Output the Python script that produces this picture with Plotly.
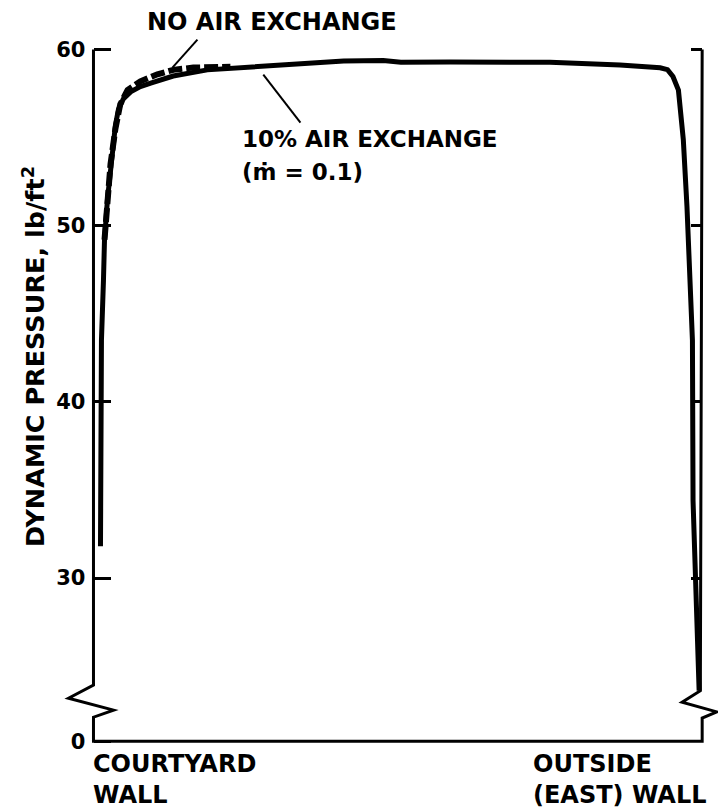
import plotly.graph_objects as go

# ---------------- data (axis units: x = 0 courtyard wall .. 100 east wall,
# y = dynamic pressure on the broken axis; the "0" sits at the break base) ----
x_10pct = [1.15, 1.31, 1.64, 1.81, 2.3, 2.8, 3.3, 3.6, 4.1, 4.9, 6.1, 7.7, 9.4,
           13.1, 18.7, 28.6, 41.1, 47.6, 50.5, 58.6, 75.0, 86.5, 91.5, 93.1,
           94.3, 95.2, 96.1, 96.9, 97.5, 98.4, 98.5, 99.3, 99.5]
p_10pct = [31.8, 43.5, 46.9, 49.2, 51.5, 53.0, 54.9, 55.7, 56.6, 57.2, 57.6,
           57.9, 58.1, 58.5, 58.85, 59.05, 59.35, 59.38, 59.28, 59.3, 59.28,
           59.12, 59.0, 58.97, 58.86, 58.47, 57.7, 54.9, 51.1, 43.5, 34.4,
           24.9, 23.6]

x_noair = [1.81, 2.3, 2.8, 3.6, 4.4, 5.6, 7.7, 10.5, 13.1, 16.4, 20.4, 22.5]
p_noair = [49.2, 51.8, 53.5, 55.5, 56.9, 57.7, 58.2, 58.6, 58.85, 58.98,
           59.03, 59.03]

tick_vals = [20.74, 30, 40, 50, 60]
tick_text = ["0", "30", "40", "50", "60"]
right_tick_vals = [30, 40, 50, 60]

# axis frame with break symbols
y_zero = 20.74
left_break_x = [0, -4.1, 3.3, 0]
left_break_y = [23.92, 23.18, 22.5, 22.1]
right_break_x = [100, 102.4, 96.7, 99.7]
right_break_y = [22.05, 22.4, 22.95, 23.6]

X_MIN, X_MAX = -5.5, 102.6
Y_MIN, Y_MAX = 19.5, 61.0

FONT = "DejaVu Sans"

fig = go.Figure()
fig.add_trace(go.Scatter(x=x_10pct, y=p_10pct, mode="lines",
                         line=dict(color="black", width=5),
                         showlegend=False, hoverinfo="skip"))
fig.add_trace(go.Scatter(x=x_noair, y=p_noair, mode="lines",
                         line=dict(color="black", width=6, dash="14px,4px"),
                         showlegend=False, hoverinfo="skip"))

# axis frame path
pts = [(0, 60)] + list(zip(left_break_x, left_break_y)) + [(0, y_zero), (100, y_zero)]
pts += [(100, right_break_y[0])] + list(zip(right_break_x, right_break_y)) + [(100, 60)]
path = "M " + " L ".join(f"{px},{py}" for px, py in pts)
fig.add_shape(type="path", path=path, xref="x", yref="y",
              line=dict(color="black", width=3))

# leader lines
fig.add_shape(type="line", x0=12.97, y0=58.98, x1=17.08, y1=60.57,
              xref="x", yref="y", line=dict(color="black", width=2))
fig.add_shape(type="line", x0=27.9, y0=58.58, x1=34.0, y1=55.85,
              xref="x", yref="y", line=dict(color="black", width=2))


def px_(xv):
    return (xv - X_MIN) / (X_MAX - X_MIN)


def py_(yv):
    return (yv - Y_MIN) / (Y_MAX - Y_MIN)


def ann(text, x, y, size, xanchor="left", yanchor="middle", angle=0):
    fig.add_annotation(text=text, x=px_(x), y=py_(y), xref="paper",
                       yref="paper", xanchor=xanchor, yanchor=yanchor,
                       showarrow=False, textangle=angle, align="left",
                       font=dict(family=FONT, size=size, color="black",
                                 weight="bold"))


ann("NO AIR EXCHANGE", 8.4, 61.55, 24)
ann("10% AIR EXCHANGE", 24.0, 54.9, 23)
ann("(ṁ = 0.1)", 24.0, 53.05, 23)
ann("COURTYARD<br>WALL", -0.4, 18.55, 24)
ann("OUTSIDE<br>(EAST) WALL", 71.8, 18.55, 24)
ann("DYNAMIC PRESSURE, lb/ft<sup>2</sup>", -9.8, 42.6, 25.5, xanchor="center",
    angle=-90)

pos_left = (0 - X_MIN) / (X_MAX - X_MIN)
pos_right = (100 - X_MIN) / (X_MAX - X_MIN)

fig.update_layout(
    width=718, height=808,
    margin=dict(l=60, r=0, t=32, b=45),
    paper_bgcolor="white", plot_bgcolor="white",
    xaxis=dict(range=[X_MIN, X_MAX], visible=False, fixedrange=True),
    yaxis=dict(range=[Y_MIN, Y_MAX], anchor="free", position=pos_left,
               tickvals=tick_vals, ticktext=tick_text, ticks="inside",
               ticklen=17, tickwidth=3, tickcolor="black",
               showline=False, showgrid=False, zeroline=False,
               ticklabelstandoff=8,
               tickfont=dict(family=FONT, size=21, color="black",
                             weight="bold")),
    yaxis2=dict(range=[Y_MIN, Y_MAX], overlaying="y", anchor="free",
                position=pos_right, side="right", tickvals=right_tick_vals,
                ticks="inside", ticklen=11, tickwidth=3, tickcolor="black",
                showticklabels=False, showline=False, showgrid=False,
                zeroline=False),
)
fig.add_trace(go.Scatter(x=[None], y=[None], yaxis="y2", showlegend=False,
                         hoverinfo="skip"))

fig.write_html("out.html")
